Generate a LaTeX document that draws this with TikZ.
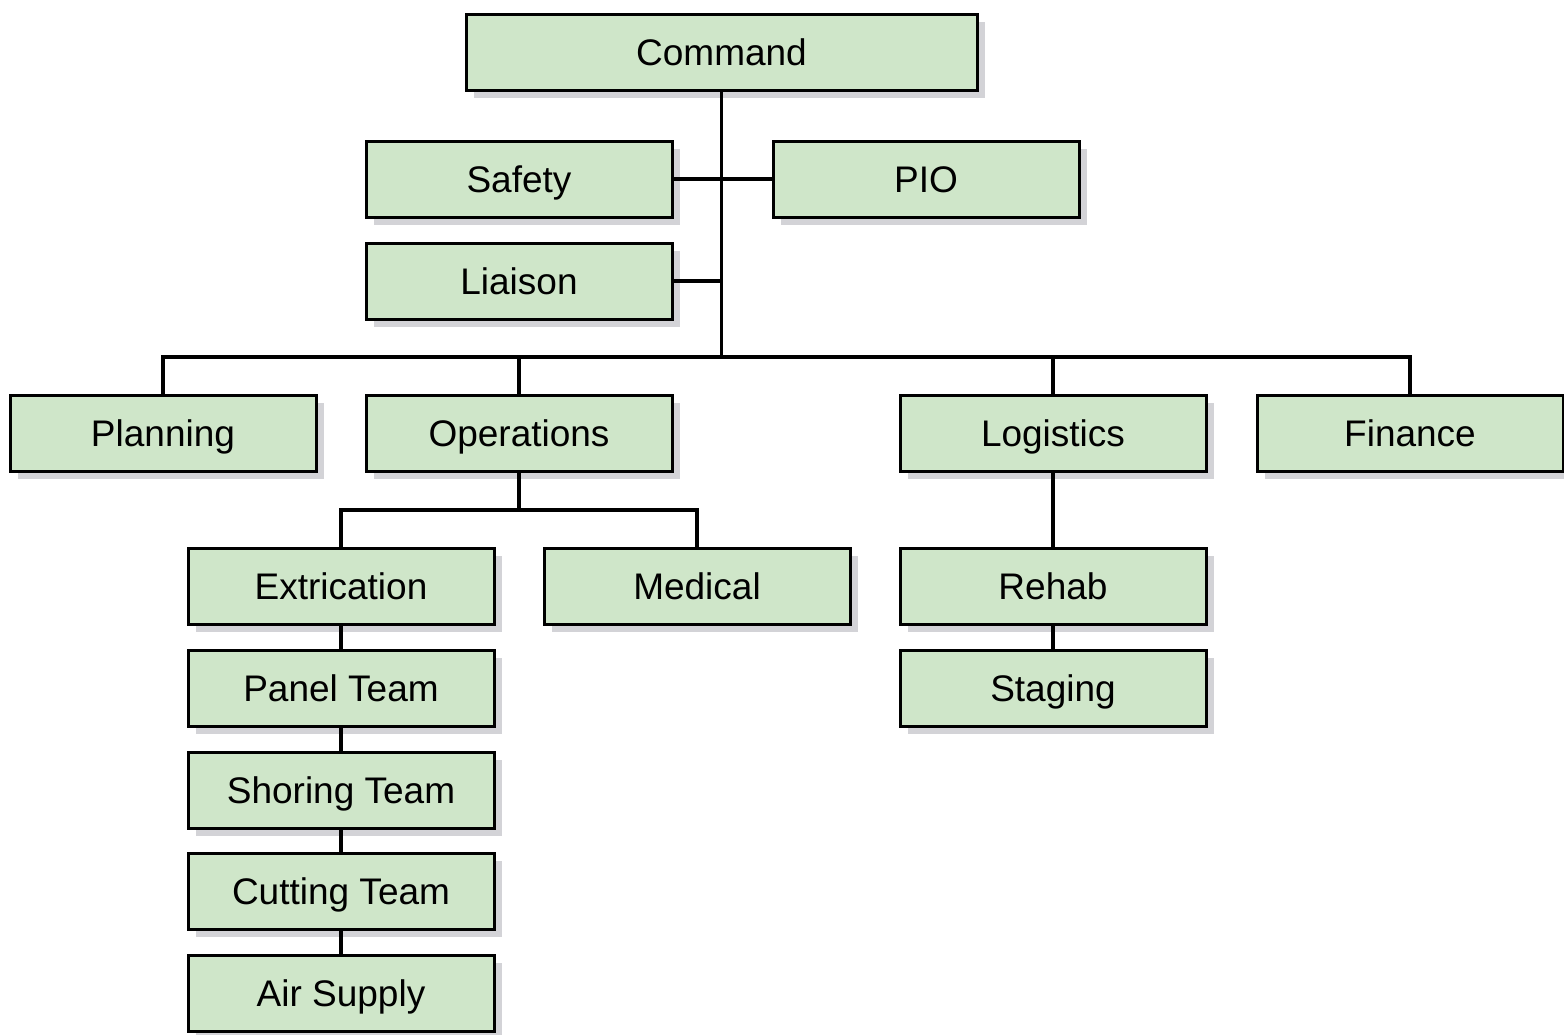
\documentclass[tikz,border=0pt]{standalone}
\usepackage{fontspec}
\setmainfont{Liberation Sans}
\usetikzlibrary{shadows}

\definecolor{boxgreen}{HTML}{CFE6C9}
\definecolor{shadowgray}{HTML}{D3D3D7}

\begin{document}
\begin{tikzpicture}[x=0.5pt, y=-0.5pt,
    unit/.style={draw, line width=1.5pt, fill=boxgreen, minimum width=153pt,
        minimum height=38pt, inner sep=0pt, text height=13.3pt, text depth=0pt,
        font=\fontsize{18.5}{22}\selectfont,
        drop shadow={shadow xshift=4pt, shadow yshift=-4pt, fill=shadowgray, opacity=1}},
    link/.style={line width=1.8pt}]
    \useasboundingbox (0,0) rectangle (1564,1034);

    % Command staff
    \node [unit, minimum width=255.5pt] (command) at (721.5, 52) {Command};
    \node [unit] (safety) at (519, 179) {Safety};
    \node [unit] (pio) at (926, 179) {PIO};
    \node [unit] (liaison) at (519, 281) {Liaison};

    % Sections
    \node [unit] (planning) at (163, 433) {Planning};
    \node [unit] (operations) at (519, 433) {Operations};
    \node [unit] (logistics) at (1053, 433) {Logistics};
    \node [unit] (finance) at (1410, 433) {Finance};

    % Operations branches
    \node [unit] (extrication) at (341, 586) {Extrication};
    \node [unit] (medical) at (697, 586) {Medical};
    \node [unit] (panel) at (341, 688) {Panel Team};
    \node [unit] (shoring) at (341, 790) {Shoring Team};
    \node [unit] (cutting) at (341, 891) {Cutting Team};
    \node [unit] (air) at (341, 993) {Air Supply};

    % Logistics branches
    \node [unit] (rehab) at (1053, 586) {Rehab};
    \node [unit] (staging) at (1053, 688) {Staging};

    % Bus points
    \coordinate (mainbus) at (721.5, 357);
    \coordinate (opsbus) at (519, 510);

    % Connectors
    \draw [link] (command.south) -- (mainbus);
    \draw [link] (safety.east) -- (pio.west);
    \draw [link] (liaison.east) -- (liaison.east -| mainbus);
    \draw [link] (planning.north) |- (mainbus) -| (finance.north);
    \draw [link] (operations.north) -- (operations.north |- mainbus);
    \draw [link] (logistics.north) -- (logistics.north |- mainbus);
    \draw [link] (operations.south) -- (opsbus);
    \draw [link] (extrication.north) |- (opsbus) -| (medical.north);
    \draw [link] (extrication.south) -- (panel.north);
    \draw [link] (panel.south) -- (shoring.north);
    \draw [link] (shoring.south) -- (cutting.north);
    \draw [link] (cutting.south) -- (air.north);
    \draw [link] (logistics.south) -- (rehab.north);
    \draw [link] (rehab.south) -- (staging.north);
\end{tikzpicture}
\end{document}
